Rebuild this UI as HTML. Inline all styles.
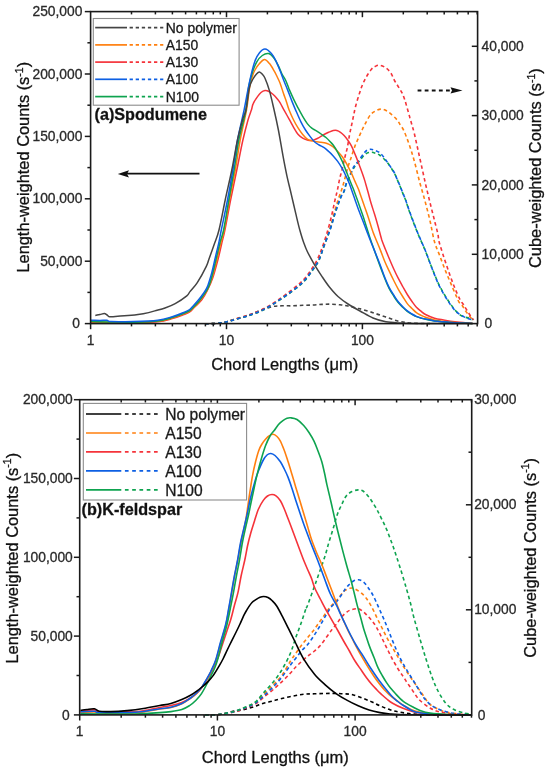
<!DOCTYPE html>
<html><head><meta charset="utf-8"><title>Chord length distributions</title>
<style>
html,body{margin:0;padding:0;background:#fff;}
body{width:550px;height:772px;overflow:hidden;}
svg{display:block;}
svg text{-webkit-font-smoothing:antialiased;}
svg{will-change:transform;}
text{font-family:"Liberation Sans",sans-serif;fill:#1a1a1a;stroke:#1a1a1a;stroke-width:0.3px;}
.tl{font-size:13.8px;fill:#2a2a2a;stroke:#2a2a2a;}
.title{font-size:16.5px;fill:#111;stroke:#111;}
.vt{font-size:16.4px;}
.bold{font-size:16.2px;font-weight:bold;fill:#111;}
</style></head>
<body>
<svg width="550" height="772" viewBox="0 0 550 772">
<rect width="550" height="772" fill="#fff"/>
<g>
<path d="M205.0,323.8 C206.7,323.8 212.2,323.7 215.0,323.5 C217.8,323.3 219.8,323.0 222.0,322.7 C224.2,322.4 225.9,322.1 228.0,321.5 C230.1,320.9 231.0,320.3 234.5,319.3 C238.0,318.3 244.8,316.8 249.1,315.3 C253.3,313.8 256.1,311.9 260.0,310.5 C263.9,309.1 268.7,307.4 272.4,306.6 C276.1,305.8 278.6,305.9 282.0,305.8 C285.4,305.7 289.2,305.9 292.7,305.8 C296.2,305.7 299.6,305.4 303.0,305.3 C306.4,305.2 309.9,305.1 313.1,305.0 C316.3,304.9 319.1,304.5 322.0,304.4 C324.9,304.3 327.5,304.1 330.5,304.2 C333.5,304.3 337.1,304.5 340.0,304.8 C342.9,305.1 345.2,305.4 348.0,306.0 C350.8,306.6 355.0,307.8 357.0,308.3 C359.0,308.8 357.3,308.1 360.0,308.8 C362.7,309.5 368.7,311.3 373.0,312.7 C377.3,314.1 381.6,315.7 385.9,317.1 C390.2,318.5 394.6,320.3 398.9,321.3 C403.2,322.3 406.6,322.7 411.8,323.1 C417.0,323.5 427.0,323.5 430.0,323.6" fill="none" stroke="#444444" stroke-width="1.6" stroke-dasharray="3.6 2.9" stroke-linejoin="round"/>
<path d="M205.0,323.8 C206.7,323.8 212.2,323.7 215.0,323.5 C217.8,323.3 219.8,323.0 222.0,322.7 C224.2,322.4 225.9,322.0 228.0,321.5 C230.1,321.0 231.0,320.5 234.5,319.5 C238.0,318.5 244.2,317.0 249.1,315.3 C253.9,313.6 258.8,311.9 263.6,309.5 C268.5,307.1 273.4,303.9 278.2,300.7 C283.0,297.5 288.3,293.9 292.7,290.5 C297.1,287.1 301.0,284.0 304.4,280.4 C307.8,276.8 310.7,272.1 313.1,268.7 C315.5,265.3 316.8,263.8 318.6,260.0 C320.4,256.2 322.1,251.3 324.0,246.0 C325.9,240.7 328.2,233.7 330.0,228.0 C331.8,222.3 333.2,216.7 334.5,212.0 C335.8,207.3 336.9,203.6 338.0,200.0 C339.1,196.4 340.4,193.6 341.4,190.5 C342.4,187.4 343.1,185.2 344.1,181.4 C345.2,177.6 346.5,171.8 347.7,167.7 C348.9,163.6 350.2,160.4 351.4,156.8 C352.6,153.2 353.8,149.1 355.0,145.9 C356.2,142.7 357.4,140.4 358.6,137.7 C359.8,135.0 361.2,131.8 362.3,129.5 C363.4,127.2 364.0,126.2 365.3,123.7 C366.6,121.2 368.7,116.9 370.4,114.8 C372.1,112.7 373.7,112.0 375.5,111.0 C377.3,110.0 379.3,109.1 381.2,109.1 C383.1,109.1 385.1,110.0 386.9,111.0 C388.7,112.0 390.3,113.3 392.0,114.8 C393.7,116.3 395.8,118.4 397.1,119.9 C398.4,121.4 398.5,121.9 399.6,123.7 C400.8,125.5 402.4,127.6 404.0,131.0 C405.6,134.4 407.3,139.2 409.0,144.0 C410.7,148.8 412.2,153.7 414.0,160.0 C415.8,166.3 417.8,175.0 419.6,181.8 C421.4,188.6 423.3,194.5 425.0,201.0 C426.7,207.5 428.4,213.9 430.0,220.7 C431.6,227.5 432.8,235.9 434.5,241.8 C436.2,247.8 438.2,251.5 440.0,256.4 C441.8,261.2 443.7,266.4 445.5,270.9 C447.3,275.4 449.1,279.4 450.9,283.6 C452.7,287.9 455.0,293.3 456.4,296.4 C457.8,299.5 458.2,300.9 459.1,302.3 C460.0,303.7 460.7,303.4 461.8,304.8 C462.9,306.2 464.3,309.1 465.5,310.9 C466.7,312.7 467.9,314.0 469.1,315.5 C470.3,317.0 472.1,319.2 472.7,320.0" fill="none" stroke="#ff7f0e" stroke-width="1.6" stroke-dasharray="3.6 2.9" stroke-linejoin="round"/>
<path d="M205.0,323.8 C206.7,323.8 212.2,323.7 215.0,323.5 C217.8,323.3 219.8,323.0 222.0,322.7 C224.2,322.4 225.9,322.1 228.0,321.5 C230.1,320.9 231.0,320.3 234.5,319.2 C238.0,318.1 244.2,316.5 249.1,314.8 C253.9,313.1 258.8,311.3 263.6,308.8 C268.5,306.3 273.4,303.1 278.2,299.8 C283.0,296.5 288.3,292.7 292.7,289.2 C297.1,285.7 301.0,282.5 304.4,278.8 C307.8,275.1 310.8,270.3 313.1,266.8 C315.4,263.3 316.5,261.1 318.0,258.0 C319.5,254.9 320.5,252.2 322.0,248.0 C323.5,243.8 325.3,238.7 327.0,233.0 C328.7,227.3 330.7,219.5 332.0,214.0 C333.3,208.5 334.1,203.9 335.0,200.0 C335.9,196.1 336.6,193.9 337.3,190.5 C338.1,187.1 338.7,183.2 339.5,179.5 C340.3,175.8 341.4,172.4 342.3,168.6 C343.2,164.8 344.2,160.3 345.0,156.8 C345.8,153.3 346.6,151.3 347.3,147.7 C348.1,144.1 348.8,138.6 349.5,135.0 C350.2,131.4 350.7,129.2 351.4,126.0 C352.1,122.8 352.8,119.3 353.5,116.0 C354.2,112.7 354.7,109.8 355.7,106.0 C356.7,102.2 358.3,96.8 359.5,93.2 C360.7,89.6 361.5,87.1 362.7,84.3 C363.9,81.5 365.0,79.1 366.5,76.6 C368.0,74.0 370.2,70.7 371.6,69.0 C373.0,67.3 373.7,67.1 375.0,66.5 C376.3,65.9 377.5,65.0 379.3,65.2 C381.1,65.4 383.7,66.4 385.6,67.7 C387.5,69.0 389.2,70.7 390.7,72.8 C392.2,74.9 393.2,78.2 394.5,80.5 C395.8,82.8 397.1,84.7 398.4,86.8 C399.7,88.9 401.1,91.1 402.2,93.2 C403.2,95.3 403.8,97.0 404.7,99.5 C405.6,102.0 406.4,105.5 407.3,108.5 C408.2,111.5 409.1,114.7 409.8,117.4 C410.6,120.1 411.1,121.9 411.8,124.5 C412.5,127.1 413.2,128.8 414.2,133.0 C415.2,137.2 416.7,144.0 418.0,150.0 C419.3,156.0 420.9,162.9 422.2,168.9 C423.5,174.9 424.7,180.4 426.0,186.0 C427.3,191.6 428.7,197.2 430.0,202.6 C431.3,208.0 432.7,213.3 434.0,218.5 C435.3,223.7 436.9,229.8 437.8,233.7 C438.7,237.6 438.1,238.0 439.1,241.8 C440.1,245.6 441.9,251.2 443.6,256.4 C445.3,261.5 447.3,267.5 449.1,272.7 C450.9,277.9 452.7,282.8 454.5,287.3 C456.3,291.8 458.5,296.6 460.0,299.5 C461.5,302.4 462.4,302.9 463.6,304.8 C464.8,306.7 466.1,309.0 467.3,310.9 C468.5,312.8 469.8,314.9 470.9,316.4 C471.9,317.9 473.2,319.4 473.6,320.0" fill="none" stroke="#f5333a" stroke-width="1.6" stroke-dasharray="3.6 2.9" stroke-linejoin="round"/>
<path d="M205.0,323.8 C206.7,323.8 212.2,323.7 215.0,323.5 C217.8,323.3 219.8,323.0 222.0,322.7 C224.2,322.4 225.9,322.0 228.0,321.5 C230.1,321.0 231.0,320.6 234.5,319.6 C238.0,318.6 244.2,317.1 249.1,315.5 C253.9,313.9 258.8,312.2 263.6,309.8 C268.5,307.4 273.4,304.1 278.2,301.0 C283.0,297.9 288.3,294.3 292.7,291.0 C297.1,287.7 301.0,284.6 304.4,281.0 C307.8,277.4 310.7,272.9 313.1,269.5 C315.5,266.1 317.1,264.4 318.9,260.5 C320.7,256.6 322.1,251.1 324.0,246.0 C325.9,240.9 328.2,235.2 330.0,230.0 C331.8,224.8 333.0,219.7 334.5,215.0 C336.0,210.3 337.8,205.5 339.0,202.0 C340.2,198.5 341.1,195.8 342.0,194.0 C342.9,192.2 343.5,192.9 344.1,191.4 C344.8,189.9 345.1,187.1 345.9,185.0 C346.6,182.9 347.7,180.7 348.6,178.6 C349.5,176.5 350.5,174.3 351.4,172.5 C352.3,170.7 352.9,169.2 354.1,167.5 C355.3,165.8 356.9,164.0 358.6,162.0 C360.3,160.0 362.5,156.9 364.1,155.3 C365.8,153.7 367.2,153.1 368.5,152.6 C369.8,152.1 370.8,152.2 372.0,152.3 C373.2,152.5 374.8,153.1 376.0,153.5 C377.2,153.9 378.0,153.9 379.5,155.0 C381.0,156.1 383.6,158.6 385.0,160.0 C386.4,161.4 386.8,161.5 388.2,163.5 C389.6,165.5 392.2,169.5 393.7,172.0 C395.1,174.5 395.6,175.7 396.9,178.7 C398.2,181.7 400.1,186.4 401.5,190.0 C402.9,193.6 404.3,196.5 405.6,200.0 C406.9,203.5 407.3,205.8 409.2,211.0 C411.1,216.2 414.4,225.1 417.0,231.5 C419.6,237.9 422.6,244.2 424.8,249.5 C427.0,254.8 428.3,258.6 430.0,263.0 C431.7,267.4 433.5,271.9 435.2,276.0 C436.9,280.1 438.2,283.4 440.4,287.5 C442.5,291.6 445.5,296.6 448.1,300.5 C450.7,304.4 453.6,308.4 455.9,311.0 C458.2,313.6 459.8,314.8 462.0,316.0 C464.2,317.2 467.1,317.6 468.9,318.2 C470.6,318.8 471.9,319.5 472.5,319.8" fill="none" stroke="#0ea34f" stroke-width="1.6" stroke-dasharray="3.6 2.9" stroke-linejoin="round"/>
<path d="M205.0,323.8 C206.7,323.8 212.2,323.7 215.0,323.5 C217.8,323.3 219.8,323.0 222.0,322.7 C224.2,322.4 225.9,322.0 228.0,321.5 C230.1,321.0 231.0,320.6 234.5,319.6 C238.0,318.6 244.2,317.1 249.1,315.4 C253.9,313.7 258.8,312.0 263.6,309.6 C268.5,307.2 273.4,304.0 278.2,300.8 C283.0,297.6 288.3,294.0 292.7,290.6 C297.1,287.2 301.0,284.2 304.4,280.6 C307.8,277.0 310.7,272.4 313.1,269.0 C315.5,265.6 317.1,264.0 318.9,260.2 C320.7,256.4 322.1,251.0 324.0,246.0 C325.9,241.0 328.2,235.2 330.0,230.0 C331.8,224.8 333.1,219.5 334.5,215.0 C335.9,210.5 337.3,206.2 338.5,203.0 C339.7,199.8 340.6,198.0 341.5,196.0 C342.4,194.0 343.4,192.9 344.1,191.0 C344.8,189.1 345.1,186.7 345.9,184.5 C346.6,182.3 347.7,180.1 348.6,178.0 C349.5,175.9 350.5,173.9 351.4,172.0 C352.3,170.1 352.9,168.2 354.1,166.3 C355.3,164.4 356.9,163.0 358.6,160.8 C360.3,158.6 362.6,154.8 364.1,153.0 C365.6,151.2 366.4,150.6 367.5,150.0 C368.6,149.4 369.6,149.3 370.7,149.3 C371.8,149.3 372.5,149.4 374.0,150.0 C375.5,150.6 377.8,151.3 379.5,152.6 C381.2,153.8 382.6,155.7 384.0,157.5 C385.4,159.3 386.6,161.2 388.2,163.5 C389.8,165.8 392.2,169.0 393.7,171.5 C395.1,174.0 395.6,175.7 396.9,178.7 C398.2,181.7 400.1,186.0 401.5,189.6 C402.9,193.2 404.3,196.5 405.6,200.0 C406.9,203.5 407.3,205.2 409.2,210.4 C411.1,215.6 414.4,224.6 417.0,231.1 C419.6,237.6 422.6,243.9 424.8,249.2 C427.0,254.5 428.3,258.4 430.0,263.0 C431.7,267.6 433.5,272.3 435.2,276.5 C436.9,280.7 438.2,283.9 440.4,288.0 C442.5,292.1 445.5,297.2 448.1,301.1 C450.7,305.0 453.3,308.8 455.9,311.4 C458.5,314.0 461.7,315.4 463.7,316.6 C465.7,317.8 466.5,317.9 468.0,318.5 C469.5,319.1 471.8,319.8 472.5,320.0" fill="none" stroke="#0d5fe3" stroke-width="1.6" stroke-dasharray="3.6 2.9" stroke-linejoin="round"/>
<path d="M91.0,322.5 C94.3,322.6 103.9,322.8 111.0,322.8 C118.1,322.9 125.8,323.0 133.6,322.8 C141.4,322.6 151.2,322.5 157.7,321.8 C164.1,321.1 167.9,319.8 172.3,318.6 C176.7,317.4 181.0,315.6 183.9,314.5 C186.8,313.4 187.9,313.2 189.7,312.0 C191.5,310.8 192.7,309.0 194.7,307.0 C196.7,305.0 199.7,302.5 201.8,299.8 C203.9,297.1 205.4,294.3 207.2,290.7 C209.0,287.1 210.9,283.3 212.7,278.0 C214.5,272.7 216.6,264.7 218.1,259.0 C219.6,253.3 220.6,248.4 221.7,243.6 C222.8,238.8 223.4,237.3 224.9,230.0 C226.4,222.7 228.6,210.0 230.6,200.0 C232.6,190.0 234.8,180.0 236.8,170.0 C238.9,160.0 241.0,148.3 242.9,140.0 C244.8,131.7 246.6,125.0 248.0,120.0 C249.4,115.0 250.5,112.7 251.4,110.0 C252.3,107.3 252.1,105.9 253.2,103.6 C254.2,101.3 256.4,98.2 257.7,96.4 C259.0,94.6 259.8,93.5 261.0,92.5 C262.2,91.5 263.7,90.7 265.0,90.5 C266.3,90.3 267.6,90.8 269.0,91.5 C270.4,92.2 271.9,93.4 273.2,94.5 C274.4,95.6 275.4,96.6 276.5,98.0 C277.6,99.4 278.7,100.5 280.0,102.7 C281.3,104.9 283.0,108.2 284.5,110.9 C286.0,113.6 287.6,116.4 289.1,119.1 C290.6,121.8 292.1,124.7 293.6,127.3 C295.1,129.9 296.7,132.7 298.2,134.5 C299.7,136.3 301.2,137.3 302.7,138.2 C304.2,139.1 305.8,139.6 307.3,140.0 C308.8,140.4 310.5,140.6 311.8,140.5 C313.1,140.4 313.7,140.0 315.0,139.5 C316.3,139.0 318.0,138.1 319.5,137.3 C321.0,136.5 322.6,135.3 324.1,134.5 C325.6,133.7 327.1,133.0 328.6,132.3 C330.1,131.7 331.8,130.9 333.2,130.6 C334.6,130.3 335.6,130.2 336.8,130.5 C338.0,130.8 339.3,131.5 340.5,132.3 C341.7,133.1 342.9,134.2 344.1,135.5 C345.3,136.8 346.5,138.3 347.7,140.0 C348.9,141.7 350.2,143.6 351.4,145.9 C352.6,148.2 353.8,151.2 355.0,154.1 C356.2,157.0 357.4,160.0 358.6,163.2 C359.8,166.4 361.2,170.2 362.3,173.2 C363.4,176.2 364.1,178.3 365.0,181.4 C365.9,184.5 367.0,188.4 368.0,192.0 C369.0,195.6 369.9,199.3 371.0,203.0 C372.1,206.7 373.3,210.2 374.5,214.0 C375.7,217.8 376.8,221.7 378.0,226.0 C379.2,230.3 380.6,236.1 381.8,240.0 C383.1,243.9 384.3,246.5 385.5,249.5 C386.7,252.5 387.7,254.9 389.1,258.2 C390.5,261.5 392.5,266.2 394.0,269.5 C395.5,272.8 396.7,275.3 398.2,278.2 C399.7,281.1 401.5,284.3 403.0,287.0 C404.5,289.7 405.8,292.1 407.3,294.5 C408.8,296.9 410.5,299.4 412.0,301.5 C413.5,303.6 414.9,305.7 416.4,307.3 C417.9,308.9 419.5,310.0 421.0,311.2 C422.5,312.4 423.2,313.3 425.5,314.5 C427.8,315.7 431.5,317.3 434.5,318.2 C437.5,319.1 440.2,319.4 443.6,320.0 C447.0,320.6 450.2,321.2 455.0,321.8 C459.8,322.4 469.6,323.1 472.5,323.4" fill="none" stroke="#f5333a" stroke-width="1.5" stroke-linejoin="round"/>
<path d="M91.0,321.8 C94.3,321.9 103.9,322.2 111.0,322.3 C118.1,322.4 125.8,322.5 133.6,322.3 C141.4,322.1 151.2,322.0 157.7,321.3 C164.1,320.6 167.9,319.2 172.3,318.0 C176.7,316.8 181.0,315.0 183.9,313.8 C186.8,312.6 188.0,312.1 189.7,311.0 C191.4,309.9 192.5,308.8 194.3,307.0 C196.1,305.2 198.3,302.9 200.5,300.0 C202.7,297.1 205.5,293.5 207.5,289.5 C209.5,285.5 211.0,281.2 212.6,276.0 C214.2,270.8 215.8,264.0 217.2,258.5 C218.6,253.0 219.6,247.8 220.8,243.0 C222.0,238.2 222.8,237.2 224.2,230.0 C225.6,222.8 227.7,210.0 229.5,200.0 C231.3,190.0 233.5,180.0 235.3,170.0 C237.1,160.0 238.3,150.0 240.2,140.0 C242.1,130.0 244.9,118.7 246.5,110.0 C248.1,101.3 248.5,93.7 249.5,88.0 C250.5,82.3 251.6,79.0 252.5,76.0 C253.4,73.0 253.8,72.1 255.0,70.0 C256.2,67.9 257.9,65.3 259.5,63.6 C261.1,61.9 262.8,59.5 264.5,59.5 C266.2,59.5 267.9,61.7 269.5,63.6 C271.1,65.5 272.9,68.8 274.1,70.9 C275.4,73.1 276.0,74.5 277.0,76.5 C278.0,78.5 278.9,80.2 280.0,83.0 C281.1,85.8 282.4,90.3 283.5,93.5 C284.6,96.7 285.6,99.2 286.5,102.0 C287.4,104.8 287.9,107.0 289.1,110.0 C290.3,113.0 292.1,117.0 293.6,120.0 C295.1,123.0 296.7,125.8 298.2,128.2 C299.7,130.6 301.2,132.7 302.7,134.5 C304.2,136.3 305.8,138.0 307.3,139.1 C308.8,140.2 310.3,140.4 311.8,140.9 C313.3,141.4 314.9,141.6 316.4,141.8 C317.9,142.0 319.4,142.1 320.9,142.3 C322.4,142.5 324.2,142.6 325.5,142.9 C326.8,143.2 327.3,143.4 328.6,144.1 C329.9,144.8 331.7,145.6 333.2,146.8 C334.7,148.0 336.2,149.7 337.7,151.4 C339.2,153.1 340.8,154.7 342.3,156.8 C343.8,158.9 345.3,161.4 346.8,164.1 C348.3,166.8 350.0,170.3 351.4,173.2 C352.8,176.1 353.8,178.7 355.0,181.4 C356.2,184.1 357.7,187.2 358.6,189.5 C359.5,191.8 359.6,192.4 360.5,195.0 C361.4,197.6 362.7,201.2 364.0,205.0 C365.3,208.8 367.0,213.5 368.5,218.0 C370.0,222.5 371.1,226.8 373.0,232.0 C374.9,237.2 378.0,244.1 380.0,249.1 C382.0,254.1 383.5,258.4 385.0,262.0 C386.5,265.6 387.6,267.7 389.1,270.9 C390.6,274.1 392.5,278.0 394.0,281.0 C395.5,284.0 396.7,286.4 398.2,289.1 C399.7,291.8 401.5,294.6 403.0,297.0 C404.5,299.4 405.8,301.7 407.3,303.6 C408.8,305.5 410.5,307.0 412.0,308.5 C413.5,310.0 414.9,311.6 416.4,312.7 C417.9,313.8 419.5,314.5 421.0,315.3 C422.5,316.1 423.2,316.5 425.5,317.3 C427.8,318.1 431.5,319.3 434.5,320.0 C437.5,320.7 440.2,321.1 443.6,321.5 C447.0,321.9 450.2,322.3 455.0,322.6 C459.8,322.9 469.6,323.3 472.5,323.4" fill="none" stroke="#ff7f0e" stroke-width="1.5" stroke-linejoin="round"/>
<path d="M91.0,321.5 C94.3,321.6 103.9,321.9 111.0,322.0 C118.1,322.1 125.8,322.4 133.6,322.2 C141.4,322.0 151.2,321.8 157.7,321.0 C164.1,320.2 167.9,318.8 172.3,317.5 C176.7,316.2 181.0,314.5 183.9,313.3 C186.8,312.1 188.0,311.6 189.7,310.5 C191.4,309.4 192.4,308.2 194.0,306.5 C195.6,304.8 197.2,303.5 199.5,300.5 C201.8,297.5 205.6,292.9 207.8,288.5 C210.0,284.1 211.1,279.1 212.5,274.0 C213.9,268.9 215.1,263.2 216.3,258.0 C217.6,252.8 218.8,247.2 220.0,242.5 C221.2,237.8 222.1,237.1 223.6,230.0 C225.1,222.9 227.1,210.0 228.8,200.0 C230.6,190.0 232.4,180.0 234.1,170.0 C235.8,160.0 236.8,150.0 238.8,140.0 C240.8,130.0 244.3,118.8 245.9,110.0 C247.5,101.2 247.5,93.5 248.6,87.3 C249.7,81.1 250.9,77.0 252.3,72.7 C253.7,68.5 255.1,64.7 256.8,61.8 C258.5,58.9 260.3,56.9 262.3,55.5 C264.3,54.1 266.6,53.1 268.6,53.6 C270.6,54.1 272.4,56.1 274.1,58.2 C275.8,60.3 277.3,63.8 278.6,66.4 C279.9,69.0 280.9,71.7 282.0,74.0 C283.1,76.3 284.3,77.5 285.5,80.0 C286.7,82.5 287.8,85.9 289.1,89.1 C290.5,92.3 292.1,95.9 293.6,99.1 C295.1,102.3 296.7,105.3 298.2,108.2 C299.7,111.1 301.2,113.8 302.7,116.4 C304.2,119.0 305.8,121.6 307.3,123.6 C308.8,125.6 310.3,127.0 311.8,128.2 C313.3,129.4 314.7,129.8 316.4,130.9 C318.1,132.0 320.2,133.4 321.8,134.5 C323.4,135.6 324.6,136.3 326.0,137.5 C327.4,138.7 328.8,140.2 330.0,141.5 C331.2,142.8 331.9,143.2 333.2,145.0 C334.5,146.8 336.2,149.6 337.7,152.3 C339.2,155.0 340.9,158.4 342.3,161.4 C343.7,164.4 344.7,167.5 345.9,170.5 C347.1,173.5 348.3,176.5 349.5,179.5 C350.7,182.5 352.1,185.7 353.2,188.6 C354.3,191.5 355.2,194.1 356.3,197.0 C357.4,199.9 358.4,202.8 359.5,206.0 C360.6,209.2 361.8,212.5 363.0,216.0 C364.2,219.5 365.3,223.3 366.5,227.0 C367.7,230.7 368.9,234.7 370.0,238.0 C371.1,241.3 371.3,241.9 373.0,246.6 C374.7,251.3 378.0,260.6 380.0,266.0 C382.0,271.4 383.5,275.3 385.0,279.0 C386.5,282.7 387.6,285.4 389.1,288.3 C390.6,291.2 392.5,294.1 394.0,296.5 C395.5,298.9 396.7,300.7 398.2,302.5 C399.7,304.3 401.5,306.0 403.0,307.5 C404.5,309.0 405.8,310.2 407.3,311.3 C408.8,312.4 410.5,313.4 412.0,314.3 C413.5,315.2 414.1,315.8 416.4,316.6 C418.6,317.4 422.5,318.6 425.5,319.3 C428.5,320.0 431.5,320.6 434.5,321.0 C437.5,321.4 440.2,321.6 443.6,321.9 C447.0,322.2 450.2,322.5 455.0,322.8 C459.8,323.1 469.6,323.4 472.5,323.5" fill="none" stroke="#0ea34f" stroke-width="1.5" stroke-linejoin="round"/>
<path d="M91.0,320.2 C92.5,320.2 97.4,320.4 100.0,320.4 C102.6,320.4 104.9,320.0 106.8,320.2 C108.7,320.4 106.7,321.4 111.2,321.6 C115.7,321.8 125.8,321.7 133.6,321.5 C141.3,321.3 151.2,321.0 157.7,320.2 C164.1,319.4 167.9,318.0 172.3,316.7 C176.7,315.4 181.0,313.6 183.9,312.4 C186.8,311.2 188.0,310.7 189.7,309.5 C191.4,308.3 192.5,306.6 194.0,305.0 C195.5,303.4 197.1,301.6 198.6,299.8 C200.1,298.0 201.6,296.1 203.0,294.0 C204.4,291.9 205.7,290.7 207.2,287.1 C208.7,283.5 210.4,277.6 211.8,272.6 C213.2,267.6 214.2,262.3 215.4,257.2 C216.6,252.1 218.0,246.3 219.0,241.8 C220.0,237.3 219.9,237.0 221.3,230.0 C222.7,223.0 225.6,210.0 227.5,200.0 C229.4,190.0 231.2,180.0 232.9,170.0 C234.6,160.0 235.6,150.0 237.5,140.0 C239.4,130.0 242.4,118.2 244.1,110.0 C245.8,101.8 246.5,97.0 247.7,90.9 C248.9,84.8 250.2,78.6 251.4,73.6 C252.6,68.6 253.7,64.4 255.0,60.9 C256.4,57.4 257.8,54.7 259.5,52.7 C261.2,50.7 263.0,49.0 265.0,49.1 C267.0,49.2 269.6,51.6 271.4,53.6 C273.2,55.6 274.5,58.1 275.9,60.9 C277.3,63.7 278.7,67.3 280.0,70.5 C281.3,73.7 282.4,76.9 283.6,80.0 C284.8,83.1 285.9,85.6 287.3,89.1 C288.7,92.6 290.3,97.1 291.8,100.9 C293.3,104.7 294.9,108.3 296.4,111.8 C297.9,115.3 299.4,118.8 300.9,121.8 C302.4,124.8 304.0,127.6 305.5,130.0 C307.0,132.4 308.5,134.4 310.0,136.4 C311.5,138.4 313.0,140.4 314.5,141.8 C316.0,143.2 317.4,144.0 319.1,145.0 C320.8,146.0 322.9,146.8 324.5,147.9 C326.1,149.0 327.2,150.1 328.6,151.4 C330.1,152.7 331.7,154.2 333.2,155.9 C334.7,157.6 336.2,159.3 337.7,161.4 C339.2,163.5 340.9,166.2 342.3,168.6 C343.7,171.0 344.7,173.3 345.9,175.9 C347.1,178.5 348.3,181.0 349.5,184.1 C350.7,187.2 352.0,191.2 353.2,194.5 C354.4,197.8 355.4,200.8 356.5,204.0 C357.6,207.2 358.8,210.4 360.0,213.5 C361.2,216.6 362.4,219.7 363.5,222.5 C364.6,225.3 365.4,227.7 366.5,230.5 C367.6,233.3 368.9,236.8 370.0,239.5 C371.1,242.2 371.3,242.8 373.0,247.0 C374.7,251.2 378.0,259.3 380.0,264.5 C382.0,269.7 383.5,274.2 385.0,278.0 C386.5,281.8 387.6,284.4 389.1,287.3 C390.6,290.2 392.5,293.1 394.0,295.5 C395.5,297.9 396.7,299.9 398.2,301.8 C399.7,303.7 401.5,305.5 403.0,307.0 C404.5,308.5 405.8,309.7 407.3,310.9 C408.8,312.1 410.5,313.1 412.0,314.0 C413.5,314.9 414.9,315.7 416.4,316.4 C417.9,317.1 419.5,317.6 421.0,318.0 C422.5,318.4 423.2,318.6 425.5,319.1 C427.8,319.6 431.5,320.4 434.5,320.9 C437.5,321.3 440.2,321.5 443.6,321.8 C447.0,322.1 450.2,322.5 455.0,322.8 C459.8,323.1 469.6,323.3 472.5,323.4" fill="none" stroke="#0d5fe3" stroke-width="1.5" stroke-linejoin="round"/>
<path d="M95.3,315.5 C96.1,315.3 98.5,314.8 100.0,314.5 C101.5,314.2 103.2,313.5 104.4,313.6 C105.6,313.7 106.1,314.5 107.0,315.0 C107.9,315.5 108.4,316.6 109.8,316.8 C111.2,317.0 112.9,316.6 115.3,316.4 C117.7,316.2 121.7,315.9 124.4,315.7 C127.1,315.5 129.2,315.5 131.5,315.3 C133.8,315.1 136.1,314.8 138.0,314.5 C139.9,314.2 140.4,314.4 143.2,313.8 C146.0,313.2 151.2,311.9 154.8,310.9 C158.4,309.9 161.6,309.2 165.0,308.0 C168.4,306.8 171.6,305.6 175.2,303.6 C178.8,301.6 184.3,297.8 186.8,295.8 C189.3,293.8 188.2,293.8 190.0,291.6 C191.8,289.4 194.6,286.8 197.3,282.6 C200.0,278.4 204.4,270.2 206.3,266.3 C208.2,262.4 207.6,262.8 209.0,259.0 C210.4,255.2 212.8,248.4 214.5,243.6 C216.2,238.8 217.2,237.3 219.0,230.0 C220.8,222.7 223.1,210.0 225.2,200.0 C227.3,190.0 229.8,180.0 231.8,170.0 C233.9,160.0 235.7,148.3 237.5,140.0 C239.3,131.7 241.1,125.0 242.5,120.0 C243.9,115.0 244.7,115.5 245.9,110.0 C247.1,104.5 248.3,92.5 249.5,87.3 C250.7,82.1 251.8,81.2 253.0,79.0 C254.2,76.8 255.4,75.2 256.5,74.0 C257.6,72.8 258.5,71.9 259.5,72.0 C260.5,72.1 261.6,73.5 262.5,74.5 C263.4,75.5 263.8,75.5 265.0,78.2 C266.2,80.9 268.0,85.6 269.5,90.9 C271.0,96.2 272.6,103.5 274.1,110.0 C275.6,116.5 276.9,122.3 278.4,130.0 C279.9,137.7 281.6,148.3 283.0,155.9 C284.4,163.5 285.4,168.8 286.8,175.3 C288.2,181.8 289.9,188.3 291.4,194.8 C292.9,201.3 294.5,208.3 295.9,214.2 C297.3,220.1 298.5,225.4 299.8,230.0 C301.1,234.6 302.2,238.4 303.5,242.0 C304.8,245.6 305.5,247.8 307.3,251.5 C309.1,255.2 311.8,260.0 314.3,264.3 C316.8,268.6 319.9,273.3 322.4,277.1 C324.9,280.9 326.8,283.8 329.4,287.0 C332.0,290.2 334.9,293.7 338.0,296.5 C341.1,299.3 344.3,301.6 348.0,304.0 C351.7,306.4 355.8,308.7 360.0,311.0 C364.2,313.3 368.7,316.2 373.0,318.0 C377.3,319.8 381.4,321.0 385.9,321.8 C390.4,322.6 394.3,322.7 400.0,323.0 C405.7,323.3 407.9,323.4 420.0,323.5 C432.1,323.6 463.8,323.6 472.5,323.6" fill="none" stroke="#444444" stroke-width="1.5" stroke-linejoin="round"/>
<rect x="90.6" y="11.6" width="387.0" height="312.0" fill="none" stroke="#1a1a1a" stroke-width="1.6"/>
<line x1="90.6" y1="323.6" x2="90.6" y2="329.20000000000005" stroke="#1a1a1a" stroke-width="1.5"/>
<text x="90.6" y="344.6" text-anchor="middle" class="tl">1</text>
<line x1="131.5" y1="323.6" x2="131.5" y2="326.40000000000003" stroke="#1a1a1a" stroke-width="1.5"/>
<line x1="131.5" y1="11.6" x2="131.5" y2="14.399999999999999" stroke="#1a1a1a" stroke-width="1.5"/>
<line x1="155.4" y1="323.6" x2="155.4" y2="326.40000000000003" stroke="#1a1a1a" stroke-width="1.5"/>
<line x1="155.4" y1="11.6" x2="155.4" y2="14.399999999999999" stroke="#1a1a1a" stroke-width="1.5"/>
<line x1="172.4" y1="323.6" x2="172.4" y2="326.40000000000003" stroke="#1a1a1a" stroke-width="1.5"/>
<line x1="172.4" y1="11.6" x2="172.4" y2="14.399999999999999" stroke="#1a1a1a" stroke-width="1.5"/>
<line x1="185.6" y1="323.6" x2="185.6" y2="326.40000000000003" stroke="#1a1a1a" stroke-width="1.5"/>
<line x1="185.6" y1="11.6" x2="185.6" y2="14.399999999999999" stroke="#1a1a1a" stroke-width="1.5"/>
<line x1="196.4" y1="323.6" x2="196.4" y2="326.40000000000003" stroke="#1a1a1a" stroke-width="1.5"/>
<line x1="196.4" y1="11.6" x2="196.4" y2="14.399999999999999" stroke="#1a1a1a" stroke-width="1.5"/>
<line x1="205.4" y1="323.6" x2="205.4" y2="326.40000000000003" stroke="#1a1a1a" stroke-width="1.5"/>
<line x1="205.4" y1="11.6" x2="205.4" y2="14.399999999999999" stroke="#1a1a1a" stroke-width="1.5"/>
<line x1="213.3" y1="323.6" x2="213.3" y2="326.40000000000003" stroke="#1a1a1a" stroke-width="1.5"/>
<line x1="213.3" y1="11.6" x2="213.3" y2="14.399999999999999" stroke="#1a1a1a" stroke-width="1.5"/>
<line x1="220.3" y1="323.6" x2="220.3" y2="326.40000000000003" stroke="#1a1a1a" stroke-width="1.5"/>
<line x1="220.3" y1="11.6" x2="220.3" y2="14.399999999999999" stroke="#1a1a1a" stroke-width="1.5"/>
<line x1="226.5" y1="323.6" x2="226.5" y2="329.20000000000005" stroke="#1a1a1a" stroke-width="1.5"/>
<line x1="226.5" y1="11.6" x2="226.5" y2="17.2" stroke="#1a1a1a" stroke-width="1.5"/>
<text x="226.5" y="344.6" text-anchor="middle" class="tl">10</text>
<line x1="267.4" y1="323.6" x2="267.4" y2="326.40000000000003" stroke="#1a1a1a" stroke-width="1.5"/>
<line x1="267.4" y1="11.6" x2="267.4" y2="14.399999999999999" stroke="#1a1a1a" stroke-width="1.5"/>
<line x1="291.3" y1="323.6" x2="291.3" y2="326.40000000000003" stroke="#1a1a1a" stroke-width="1.5"/>
<line x1="291.3" y1="11.6" x2="291.3" y2="14.399999999999999" stroke="#1a1a1a" stroke-width="1.5"/>
<line x1="308.3" y1="323.6" x2="308.3" y2="326.40000000000003" stroke="#1a1a1a" stroke-width="1.5"/>
<line x1="308.3" y1="11.6" x2="308.3" y2="14.399999999999999" stroke="#1a1a1a" stroke-width="1.5"/>
<line x1="321.5" y1="323.6" x2="321.5" y2="326.40000000000003" stroke="#1a1a1a" stroke-width="1.5"/>
<line x1="321.5" y1="11.6" x2="321.5" y2="14.399999999999999" stroke="#1a1a1a" stroke-width="1.5"/>
<line x1="332.3" y1="323.6" x2="332.3" y2="326.40000000000003" stroke="#1a1a1a" stroke-width="1.5"/>
<line x1="332.3" y1="11.6" x2="332.3" y2="14.399999999999999" stroke="#1a1a1a" stroke-width="1.5"/>
<line x1="341.3" y1="323.6" x2="341.3" y2="326.40000000000003" stroke="#1a1a1a" stroke-width="1.5"/>
<line x1="341.3" y1="11.6" x2="341.3" y2="14.399999999999999" stroke="#1a1a1a" stroke-width="1.5"/>
<line x1="349.2" y1="323.6" x2="349.2" y2="326.40000000000003" stroke="#1a1a1a" stroke-width="1.5"/>
<line x1="349.2" y1="11.6" x2="349.2" y2="14.399999999999999" stroke="#1a1a1a" stroke-width="1.5"/>
<line x1="356.2" y1="323.6" x2="356.2" y2="326.40000000000003" stroke="#1a1a1a" stroke-width="1.5"/>
<line x1="356.2" y1="11.6" x2="356.2" y2="14.399999999999999" stroke="#1a1a1a" stroke-width="1.5"/>
<line x1="362.4" y1="323.6" x2="362.4" y2="329.20000000000005" stroke="#1a1a1a" stroke-width="1.5"/>
<line x1="362.4" y1="11.6" x2="362.4" y2="17.2" stroke="#1a1a1a" stroke-width="1.5"/>
<text x="362.4" y="344.6" text-anchor="middle" class="tl">100</text>
<line x1="403.3" y1="323.6" x2="403.3" y2="326.40000000000003" stroke="#1a1a1a" stroke-width="1.5"/>
<line x1="403.3" y1="11.6" x2="403.3" y2="14.399999999999999" stroke="#1a1a1a" stroke-width="1.5"/>
<line x1="427.2" y1="323.6" x2="427.2" y2="326.40000000000003" stroke="#1a1a1a" stroke-width="1.5"/>
<line x1="427.2" y1="11.6" x2="427.2" y2="14.399999999999999" stroke="#1a1a1a" stroke-width="1.5"/>
<line x1="444.2" y1="323.6" x2="444.2" y2="326.40000000000003" stroke="#1a1a1a" stroke-width="1.5"/>
<line x1="444.2" y1="11.6" x2="444.2" y2="14.399999999999999" stroke="#1a1a1a" stroke-width="1.5"/>
<line x1="457.4" y1="323.6" x2="457.4" y2="326.40000000000003" stroke="#1a1a1a" stroke-width="1.5"/>
<line x1="457.4" y1="11.6" x2="457.4" y2="14.399999999999999" stroke="#1a1a1a" stroke-width="1.5"/>
<line x1="468.2" y1="323.6" x2="468.2" y2="326.40000000000003" stroke="#1a1a1a" stroke-width="1.5"/>
<line x1="468.2" y1="11.6" x2="468.2" y2="14.399999999999999" stroke="#1a1a1a" stroke-width="1.5"/>
<line x1="477.2" y1="323.6" x2="477.2" y2="326.40000000000003" stroke="#1a1a1a" stroke-width="1.5"/>
<line x1="477.2" y1="11.6" x2="477.2" y2="14.399999999999999" stroke="#1a1a1a" stroke-width="1.5"/>
<line x1="84.8" y1="323.6" x2="90.6" y2="323.6" stroke="#1a1a1a" stroke-width="1.5"/>
<text x="80.0" y="328.2" text-anchor="end" class="tl">0</text>
<line x1="87.4" y1="292.4" x2="90.6" y2="292.4" stroke="#1a1a1a" stroke-width="1.5"/>
<line x1="84.8" y1="261.2" x2="90.6" y2="261.2" stroke="#1a1a1a" stroke-width="1.5"/>
<text x="82.4" y="265.8" text-anchor="end" class="tl">50,000</text>
<line x1="87.4" y1="230.0" x2="90.6" y2="230.0" stroke="#1a1a1a" stroke-width="1.5"/>
<line x1="84.8" y1="198.8" x2="90.6" y2="198.8" stroke="#1a1a1a" stroke-width="1.5"/>
<text x="82.4" y="203.4" text-anchor="end" class="tl">100,000</text>
<line x1="87.4" y1="167.6" x2="90.6" y2="167.6" stroke="#1a1a1a" stroke-width="1.5"/>
<line x1="84.8" y1="136.4" x2="90.6" y2="136.4" stroke="#1a1a1a" stroke-width="1.5"/>
<text x="82.4" y="141.0" text-anchor="end" class="tl">150,000</text>
<line x1="87.4" y1="105.2" x2="90.6" y2="105.2" stroke="#1a1a1a" stroke-width="1.5"/>
<line x1="84.8" y1="74.0" x2="90.6" y2="74.0" stroke="#1a1a1a" stroke-width="1.5"/>
<text x="82.4" y="78.6" text-anchor="end" class="tl">200,000</text>
<line x1="87.4" y1="42.8" x2="90.6" y2="42.8" stroke="#1a1a1a" stroke-width="1.5"/>
<line x1="84.8" y1="11.6" x2="90.6" y2="11.6" stroke="#1a1a1a" stroke-width="1.5"/>
<text x="82.4" y="16.2" text-anchor="end" class="tl">250,000</text>
<text x="484.6" y="328.2" class="tl">0</text>
<line x1="474.4" y1="288.9" x2="477.6" y2="288.9" stroke="#1a1a1a" stroke-width="1.5"/>
<line x1="471.8" y1="254.3" x2="477.6" y2="254.3" stroke="#1a1a1a" stroke-width="1.5"/>
<text x="481.6" y="258.9" class="tl">10,000</text>
<line x1="474.4" y1="219.6" x2="477.6" y2="219.6" stroke="#1a1a1a" stroke-width="1.5"/>
<line x1="471.8" y1="184.9" x2="477.6" y2="184.9" stroke="#1a1a1a" stroke-width="1.5"/>
<text x="481.6" y="189.5" class="tl">20,000</text>
<line x1="474.4" y1="150.3" x2="477.6" y2="150.3" stroke="#1a1a1a" stroke-width="1.5"/>
<line x1="471.8" y1="115.6" x2="477.6" y2="115.6" stroke="#1a1a1a" stroke-width="1.5"/>
<text x="481.6" y="120.2" class="tl">30,000</text>
<line x1="474.4" y1="80.9" x2="477.6" y2="80.9" stroke="#1a1a1a" stroke-width="1.5"/>
<line x1="471.8" y1="46.3" x2="477.6" y2="46.3" stroke="#1a1a1a" stroke-width="1.5"/>
<text x="481.6" y="50.9" class="tl">40,000</text>
<rect x="93.3" y="18.5" width="145.8" height="86.7" fill="#fff" stroke="#8c8c8c" stroke-width="1.1"/>
<line x1="95.2" y1="27.6" x2="127.0" y2="27.6" stroke="#444444" stroke-width="1.7"/>
<line x1="129.6" y1="27.6" x2="163.3" y2="27.6" stroke="#444444" stroke-width="1.7" stroke-dasharray="3.3 2.8"/>
<text x="165.8" y="32.5" style="font-size:13.9px">No polymer</text>
<line x1="95.2" y1="44.9" x2="127.0" y2="44.9" stroke="#ff7f0e" stroke-width="1.7"/>
<line x1="129.6" y1="44.9" x2="163.3" y2="44.9" stroke="#ff7f0e" stroke-width="1.7" stroke-dasharray="3.3 2.8"/>
<text x="165.8" y="49.8" style="font-size:13.9px">A150</text>
<line x1="95.2" y1="62.1" x2="127.0" y2="62.1" stroke="#f5333a" stroke-width="1.7"/>
<line x1="129.6" y1="62.1" x2="163.3" y2="62.1" stroke="#f5333a" stroke-width="1.7" stroke-dasharray="3.3 2.8"/>
<text x="165.8" y="67.0" style="font-size:13.9px">A130</text>
<line x1="95.2" y1="79.3" x2="127.0" y2="79.3" stroke="#0d5fe3" stroke-width="1.7"/>
<line x1="129.6" y1="79.3" x2="163.3" y2="79.3" stroke="#0d5fe3" stroke-width="1.7" stroke-dasharray="3.3 2.8"/>
<text x="165.8" y="84.2" style="font-size:13.9px">A100</text>
<line x1="95.2" y1="96.6" x2="127.0" y2="96.6" stroke="#0ea34f" stroke-width="1.7"/>
<line x1="129.6" y1="96.6" x2="163.3" y2="96.6" stroke="#0ea34f" stroke-width="1.7" stroke-dasharray="3.3 2.8"/>
<text x="165.8" y="101.5" style="font-size:13.9px">N100</text>
<text x="94.5" y="120" class="bold">(a)Spodumene</text>
<line x1="199.5" y1="173.6" x2="126" y2="173.6" stroke="#111" stroke-width="1.7"/>
<path d="M117.8,173.9 L129,170.3 L127,173.9 L129,177.5 Z" fill="#111"/>
<line x1="417.6" y1="90.4" x2="451" y2="90.4" stroke="#111" stroke-width="2" stroke-dasharray="3.8 3.3"/>
<path d="M462.5,90.4 L450.5,87.3 L452,90.4 L450.5,93.5 Z" fill="#111"/>
<text x="211.2" y="369.6" class="title">Chord Lengths (μm)</text>
<text transform="translate(29.4,272.6) rotate(-90)" class="title vt">Length-weighted Counts (s<tspan dy="-6.8" style="font-size:10.5px">-1</tspan><tspan dy="6.8">)</tspan></text>
<text transform="translate(541.3,268) rotate(-90)" class="title vt">Cube-weighted Counts (s<tspan dy="-6.8" style="font-size:10.5px">-1</tspan><tspan dy="6.8">)</tspan></text>
</g>
<g>
<path d="M205.0,715.0 C206.7,715.0 212.2,714.9 215.0,714.8 C217.8,714.7 219.2,714.7 222.0,714.2 C224.8,713.7 228.8,712.3 232.0,711.6 C235.2,710.9 238.2,710.7 240.9,710.2 C243.7,709.7 245.9,709.1 248.5,708.4 C251.1,707.7 253.7,706.8 256.2,705.9 C258.7,705.0 260.9,704.1 263.6,703.3 C266.4,702.5 269.7,701.8 272.7,701.0 C275.7,700.2 278.5,699.3 281.8,698.5 C285.1,697.7 289.1,696.9 292.7,696.2 C296.3,695.5 300.0,694.7 303.6,694.3 C307.2,693.9 309.8,693.9 314.5,693.8 C319.2,693.6 327.3,693.4 332.0,693.4 C336.7,693.4 339.6,693.6 342.9,693.8 C346.2,694.0 348.3,693.8 351.6,694.5 C354.9,695.2 359.2,697.0 362.6,698.2 C366.0,699.5 369.1,700.7 372.0,702.0 C374.9,703.3 377.0,704.5 380.0,705.8 C383.0,707.1 386.7,708.7 390.0,709.8 C393.3,710.9 396.0,711.5 400.0,712.2 C404.0,712.9 409.0,713.6 414.0,714.0 C419.0,714.4 420.5,714.6 430.0,714.8 C439.5,714.9 464.2,714.9 471.0,714.9" fill="none" stroke="#000000" stroke-width="1.6" stroke-dasharray="3.6 2.9" stroke-linejoin="round"/>
<path d="M205.0,715.0 C206.7,715.0 212.2,715.0 215.0,714.8 C217.8,714.6 219.7,714.4 222.0,714.0 C224.3,713.6 226.8,713.1 229.0,712.6 C231.2,712.1 233.0,711.9 235.0,711.3 C237.0,710.7 238.8,710.1 241.0,709.2 C243.2,708.4 246.0,707.4 248.5,706.2 C251.0,705.0 253.7,704.0 256.2,702.0 C258.7,700.0 260.9,697.2 263.6,694.5 C266.4,691.8 269.7,688.7 272.7,685.5 C275.7,682.3 278.8,679.6 281.8,675.5 C284.8,671.4 288.1,664.8 290.5,661.0 C292.9,657.2 294.1,655.7 296.0,653.0 C297.9,650.3 299.8,647.5 301.7,645.0 C303.6,642.5 305.6,640.2 307.5,637.8 C309.4,635.4 311.4,633.3 313.3,630.8 C315.2,628.2 317.2,625.2 319.1,622.5 C321.1,619.8 323.1,617.0 325.0,614.3 C326.9,611.6 328.9,608.6 330.8,606.3 C332.7,604.0 334.5,603.0 336.6,600.5 C338.7,598.0 341.8,593.4 343.6,591.5 C345.4,589.6 346.2,589.9 347.5,589.3 C348.8,588.7 349.7,588.0 351.1,588.0 C352.5,588.0 354.3,588.6 356.0,589.5 C357.7,590.4 359.9,591.9 361.5,593.2 C363.1,594.5 364.3,595.8 365.7,597.5 C367.1,599.2 368.4,601.3 369.8,603.6 C371.2,605.9 372.6,608.7 374.0,611.5 C375.4,614.3 376.7,617.4 378.1,620.2 C379.5,623.0 380.9,625.7 382.3,628.5 C383.7,631.3 385.0,634.2 386.4,636.8 C387.8,639.4 389.1,641.9 390.5,644.3 C391.9,646.7 393.3,648.9 394.7,651.3 C396.1,653.7 397.4,656.1 398.8,658.5 C400.2,660.9 401.6,663.5 403.0,665.8 C404.4,668.0 405.6,669.9 407.0,672.0 C408.4,674.1 409.9,676.2 411.3,678.3 C412.7,680.4 414.2,682.4 415.6,684.5 C417.1,686.6 418.4,688.5 420.0,690.7 C421.6,693.0 423.3,695.7 425.0,698.0 C426.7,700.3 426.8,702.2 430.0,704.5 C433.2,706.8 439.0,709.9 444.0,711.5 C449.0,713.1 455.5,713.5 460.0,714.0 C464.5,714.5 469.2,714.5 471.0,714.6" fill="none" stroke="#ff7f0e" stroke-width="1.6" stroke-dasharray="3.6 2.9" stroke-linejoin="round"/>
<path d="M205.0,715.0 C206.7,715.0 212.2,714.9 215.0,714.8 C217.8,714.6 219.7,714.4 222.0,714.1 C224.3,713.8 226.8,713.4 229.0,713.0 C231.2,712.6 233.0,712.3 235.0,711.8 C237.0,711.3 238.8,710.6 241.0,709.8 C243.2,709.0 246.0,708.0 248.5,707.0 C251.0,706.0 253.7,705.1 256.2,703.5 C258.7,701.9 260.9,699.5 263.6,697.3 C266.4,695.0 269.7,692.6 272.7,690.0 C275.7,687.4 278.8,684.6 281.8,681.8 C284.8,679.0 288.1,675.6 290.5,673.0 C292.9,670.4 294.4,668.4 296.5,666.3 C298.6,664.2 300.8,662.1 302.8,660.3 C304.8,658.5 306.7,657.0 308.6,655.5 C310.6,654.0 312.6,652.7 314.5,651.0 C316.4,649.3 318.4,647.7 320.3,645.5 C322.2,643.3 324.2,640.4 326.1,637.8 C328.1,635.1 330.2,631.9 332.0,629.6 C333.8,627.3 335.1,625.8 336.6,623.8 C338.2,621.8 339.6,619.4 341.3,617.4 C343.1,615.4 345.3,613.1 347.1,611.8 C348.9,610.5 350.1,610.1 352.0,609.6 C353.9,609.1 356.6,608.5 358.4,608.8 C360.2,609.1 361.4,610.3 363.0,611.5 C364.6,612.7 366.2,614.5 367.7,616.0 C369.2,617.5 370.6,619.1 372.0,620.8 C373.4,622.5 374.7,624.2 376.0,626.4 C377.3,628.6 378.6,631.2 380.0,634.0 C381.4,636.8 382.9,640.1 384.3,643.0 C385.7,645.9 387.1,648.7 388.5,651.5 C389.9,654.3 391.1,656.8 392.6,659.6 C394.2,662.4 396.1,665.7 397.8,668.5 C399.5,671.3 401.5,673.9 403.0,676.2 C404.5,678.5 405.6,680.4 407.0,682.5 C408.4,684.6 409.9,686.5 411.3,688.6 C412.7,690.7 414.2,693.0 415.6,695.0 C417.1,697.0 417.6,698.3 420.0,700.5 C422.4,702.7 426.7,706.1 430.0,708.0 C433.3,709.9 435.8,711.0 440.0,712.0 C444.2,713.0 449.8,713.8 455.0,714.3 C460.2,714.8 468.3,714.7 471.0,714.8" fill="none" stroke="#f5333a" stroke-width="1.6" stroke-dasharray="3.6 2.9" stroke-linejoin="round"/>
<path d="M205.0,715.0 C206.7,715.0 212.2,715.0 215.0,714.8 C217.8,714.6 219.7,714.4 222.0,714.0 C224.3,713.6 226.8,713.1 229.0,712.7 C231.2,712.3 233.0,712.0 235.0,711.4 C237.0,710.8 238.8,710.2 241.0,709.4 C243.2,708.6 246.0,707.6 248.5,706.5 C251.0,705.4 253.7,704.2 256.2,702.5 C258.7,700.8 260.9,698.5 263.6,696.0 C266.4,693.5 269.7,690.6 272.7,687.5 C275.7,684.4 278.8,681.0 281.8,677.3 C284.8,673.5 288.1,668.2 290.5,665.0 C292.9,661.8 294.1,660.4 296.0,658.0 C297.9,655.6 299.8,652.8 301.7,650.6 C303.6,648.4 305.6,647.1 307.5,644.8 C309.4,642.5 311.4,639.5 313.3,636.6 C315.2,633.7 317.2,630.6 319.1,627.3 C321.1,624.0 323.1,620.1 325.0,616.8 C326.9,613.5 328.9,610.0 330.8,607.5 C332.7,605.0 334.7,604.0 336.6,601.7 C338.5,599.4 340.8,595.8 342.4,593.5 C344.0,591.2 344.8,589.5 346.0,588.0 C347.2,586.5 348.4,585.4 349.6,584.2 C350.9,583.0 352.0,581.8 353.5,581.0 C355.0,580.2 356.8,579.6 358.4,579.7 C360.0,579.8 361.4,580.3 363.0,581.5 C364.6,582.7 366.2,585.0 367.7,587.0 C369.2,589.0 370.6,591.1 372.0,593.5 C373.4,595.9 374.7,598.7 376.0,601.5 C377.3,604.3 378.6,607.4 380.0,610.5 C381.4,613.6 382.9,616.9 384.3,620.2 C385.7,623.5 387.1,627.0 388.5,630.5 C389.9,634.0 391.2,637.6 392.6,640.9 C394.0,644.2 395.3,647.4 396.7,650.5 C398.1,653.6 399.5,656.9 400.9,659.6 C402.3,662.4 403.6,664.6 405.0,667.0 C406.4,669.4 407.8,671.9 409.2,674.1 C410.6,676.4 411.9,678.3 413.3,680.5 C414.7,682.7 415.4,684.2 417.5,687.5 C419.6,690.8 422.9,697.1 426.0,700.5 C429.1,703.9 432.0,706.0 436.0,708.0 C440.0,710.0 445.2,711.7 450.0,712.8 C454.8,713.9 461.5,714.2 465.0,714.5 C468.5,714.8 470.0,714.7 471.0,714.7" fill="none" stroke="#0d5fe3" stroke-width="1.6" stroke-dasharray="3.6 2.9" stroke-linejoin="round"/>
<path d="M205.0,715.0 C206.7,715.0 212.2,715.0 215.0,714.8 C217.8,714.6 219.7,714.4 222.0,714.0 C224.3,713.6 226.8,713.0 229.0,712.5 C231.2,712.0 233.0,711.8 235.0,711.2 C237.0,710.6 238.8,709.9 241.0,709.0 C243.2,708.1 246.0,707.1 248.5,705.8 C251.0,704.5 253.7,703.5 256.2,701.3 C258.7,699.1 260.9,695.8 263.6,692.7 C266.4,689.6 269.7,686.5 272.7,682.7 C275.7,678.9 278.8,675.0 281.8,670.0 C284.8,665.0 288.2,658.4 290.5,653.0 C292.8,647.6 293.9,642.8 295.8,637.5 C297.7,632.2 299.9,626.5 301.7,621.5 C303.4,616.5 305.4,610.1 306.3,607.5 C307.2,604.9 305.7,610.2 307.3,606.0 C308.9,601.8 313.1,590.2 316.0,582.0 C318.9,573.8 322.5,563.7 324.7,557.0 C326.9,550.3 327.5,546.9 329.0,542.0 C330.5,537.1 332.1,532.2 333.5,527.5 C334.9,522.8 336.1,517.9 337.5,514.0 C338.9,510.1 340.6,507.0 342.0,504.0 C343.4,501.0 344.5,498.1 346.2,496.0 C347.9,493.9 350.0,492.5 352.0,491.5 C354.0,490.5 356.4,490.0 358.2,489.9 C360.0,489.8 361.4,490.0 363.0,491.0 C364.6,492.0 366.5,494.2 368.0,496.0 C369.5,497.8 370.6,499.3 372.0,501.5 C373.4,503.7 375.2,506.4 376.7,509.1 C378.2,511.8 379.4,514.4 381.1,517.8 C382.8,521.2 384.7,524.7 386.7,529.6 C388.7,534.5 391.1,540.9 393.3,547.1 C395.5,553.3 397.6,559.8 399.8,566.7 C402.0,573.6 404.6,582.4 406.4,588.6 C408.2,594.8 409.4,599.1 410.7,604.0 C412.0,608.9 412.4,612.2 414.0,618.0 C415.6,623.8 418.0,632.2 420.0,639.0 C422.0,645.8 424.0,652.7 426.0,659.0 C428.0,665.3 430.0,671.7 432.0,677.0 C434.0,682.3 435.7,686.6 438.0,691.0 C440.3,695.4 443.3,700.4 446.0,703.5 C448.7,706.6 451.0,707.9 454.0,709.5 C457.0,711.1 461.2,712.2 464.0,713.0 C466.8,713.8 469.8,714.0 471.0,714.2" fill="none" stroke="#0ea34f" stroke-width="1.6" stroke-dasharray="3.6 2.9" stroke-linejoin="round"/>
<path d="M80.5,710.9 C82.8,710.7 91.3,709.7 94.4,709.9 C97.5,710.1 93.8,711.6 99.3,711.9 C104.8,712.2 119.7,712.1 127.1,711.9 C134.5,711.7 138.1,711.5 143.5,710.8 C148.9,710.1 155.2,708.4 159.8,707.5 C164.4,706.6 167.2,706.3 170.9,705.5 C174.6,704.7 178.5,703.8 181.8,702.5 C185.1,701.2 187.9,699.6 190.5,698.0 C193.1,696.4 195.3,694.5 197.1,692.8 C198.9,691.1 200.1,689.9 201.5,688.0 C202.9,686.1 204.3,683.9 205.8,681.5 C207.3,679.1 209.1,676.3 210.6,673.5 C212.1,670.7 213.5,667.6 214.9,664.5 C216.3,661.4 217.7,658.6 219.0,655.0 C220.3,651.4 221.6,647.0 222.9,643.0 C224.2,639.0 225.6,635.0 226.9,631.0 C228.2,627.0 229.7,623.2 230.9,619.0 C232.2,614.8 233.2,609.9 234.4,605.5 C235.6,601.1 236.9,597.3 238.0,592.4 C239.1,587.5 240.0,581.4 241.1,576.0 C242.2,570.6 243.7,565.0 244.8,560.0 C245.9,555.0 246.6,550.3 247.5,546.0 C248.4,541.7 249.3,538.2 250.5,534.0 C251.7,529.8 253.2,525.2 254.5,521.0 C255.8,516.8 257.0,512.4 258.5,509.0 C260.0,505.6 261.8,502.6 263.3,500.4 C264.8,498.2 266.1,497.0 267.5,496.0 C268.9,495.0 270.6,494.5 272.0,494.5 C273.4,494.5 274.6,494.8 276.0,495.8 C277.4,496.8 279.0,498.5 280.4,500.7 C281.8,502.9 283.0,506.0 284.3,509.0 C285.6,512.0 286.8,515.5 288.1,518.8 C289.4,522.1 290.7,525.5 292.0,529.0 C293.3,532.5 294.6,536.0 295.9,539.5 C297.2,543.0 298.5,546.5 299.8,550.0 C301.1,553.5 302.4,557.0 303.7,560.3 C305.0,563.5 306.3,566.5 307.6,569.5 C308.9,572.5 310.3,575.2 311.5,578.4 C312.7,581.6 313.5,585.1 315.0,588.5 C316.5,591.9 318.4,595.4 320.3,599.0 C322.2,602.6 324.2,606.5 326.1,610.0 C328.1,613.5 330.1,616.9 332.0,620.3 C333.9,623.7 335.9,627.0 337.8,630.5 C339.7,634.0 341.7,637.6 343.6,641.0 C345.5,644.4 347.5,647.7 349.4,651.0 C351.3,654.3 353.0,657.8 355.0,661.0 C357.0,664.2 359.6,667.7 361.5,670.5 C363.4,673.3 365.0,675.7 366.7,678.0 C368.4,680.3 370.2,682.5 371.9,684.5 C373.6,686.5 375.3,688.2 377.0,690.0 C378.7,691.8 380.5,693.4 382.2,695.0 C383.9,696.6 385.7,698.1 387.4,699.5 C389.1,700.9 390.0,701.7 392.6,703.2 C395.2,704.7 399.3,706.8 403.0,708.3 C406.7,709.8 410.5,711.3 415.0,712.3 C419.5,713.3 424.2,713.8 430.0,714.2 C435.8,714.6 443.2,714.7 450.0,714.8 C456.8,714.9 467.5,714.9 471.0,714.9" fill="none" stroke="#f5333a" stroke-width="1.6" stroke-linejoin="round"/>
<path d="M80.5,712.5 C82.8,712.4 91.3,711.9 94.4,712.0 C97.5,712.1 93.8,712.8 99.3,713.0 C104.8,713.2 119.7,713.2 127.1,713.0 C134.5,712.8 138.1,712.6 143.5,711.9 C148.9,711.2 155.2,709.7 159.8,709.0 C164.4,708.3 167.2,708.4 170.9,707.5 C174.6,706.6 178.5,705.2 181.8,703.7 C185.1,702.2 187.9,700.1 190.5,698.3 C193.1,696.5 195.3,694.5 197.1,692.8 C198.9,691.1 200.1,689.9 201.5,687.9 C202.9,685.9 204.3,683.5 205.8,680.9 C207.3,678.3 208.9,675.7 210.6,672.3 C212.3,668.9 214.2,665.4 215.9,660.5 C217.6,655.6 219.0,648.9 220.7,643.0 C222.4,637.1 224.5,630.8 225.9,625.0 C227.3,619.2 228.0,613.9 229.0,608.5 C230.0,603.1 230.9,597.8 231.8,592.4 C232.7,587.0 233.6,581.4 234.6,576.0 C235.6,570.6 236.8,565.2 237.8,560.0 C238.8,554.8 239.6,549.7 240.5,545.0 C241.4,540.3 242.3,536.2 243.2,532.0 C244.1,527.8 244.8,525.7 245.8,520.0 C246.8,514.3 247.9,505.3 249.0,498.0 C250.1,490.7 251.3,482.4 252.4,476.4 C253.5,470.4 254.4,466.4 255.5,462.0 C256.6,457.6 257.8,453.2 258.9,450.2 C260.0,447.2 260.9,445.8 262.0,444.0 C263.1,442.2 264.3,440.6 265.5,439.3 C266.7,438.0 267.7,436.8 269.0,436.0 C270.3,435.2 271.8,434.2 273.1,434.3 C274.4,434.4 275.8,435.4 277.0,436.5 C278.2,437.6 279.2,438.8 280.4,441.1 C281.6,443.4 283.0,447.1 284.3,450.5 C285.6,453.9 286.8,457.8 288.1,461.8 C289.4,465.8 290.7,470.2 292.0,474.5 C293.3,478.8 294.6,483.4 295.9,487.7 C297.2,492.0 298.5,496.2 299.8,500.5 C301.1,504.8 302.4,509.3 303.7,513.6 C305.0,517.9 306.3,522.2 307.6,526.5 C308.9,530.8 310.0,535.2 311.5,539.5 C313.0,543.8 314.8,548.3 316.5,552.5 C318.2,556.7 320.1,560.2 321.8,564.5 C323.6,568.8 325.2,573.4 327.0,578.0 C328.8,582.6 330.6,587.3 332.4,592.0 C334.1,596.7 335.8,601.5 337.5,606.0 C339.2,610.5 341.1,614.9 342.8,619.0 C344.6,623.1 346.3,626.9 348.0,630.5 C349.7,634.1 351.5,637.2 353.2,640.5 C354.9,643.8 356.7,647.3 358.4,650.5 C360.1,653.7 361.9,656.6 363.6,659.6 C365.3,662.6 367.0,665.4 368.7,668.2 C370.4,671.0 372.2,673.7 373.9,676.2 C375.6,678.7 377.3,681.0 379.0,683.2 C380.7,685.5 382.6,687.8 384.3,689.7 C386.1,691.6 387.8,693.2 389.5,694.8 C391.2,696.3 392.1,697.1 394.7,699.0 C397.3,700.9 401.7,704.3 405.1,706.3 C408.5,708.3 410.9,709.8 415.0,711.0 C419.1,712.2 424.2,713.2 430.0,713.8 C435.8,714.4 443.2,714.4 450.0,714.6 C456.8,714.8 467.5,714.9 471.0,714.9" fill="none" stroke="#ff7f0e" stroke-width="1.6" stroke-linejoin="round"/>
<path d="M80.5,711.8 C82.8,711.7 91.3,711.1 94.4,711.2 C97.5,711.3 93.8,712.3 99.3,712.5 C104.8,712.7 119.7,712.8 127.1,712.6 C134.5,712.4 138.1,712.1 143.5,711.5 C148.9,710.9 155.2,709.5 159.8,708.8 C164.4,708.1 167.2,708.2 170.9,707.3 C174.6,706.4 178.5,705.0 181.8,703.5 C185.1,702.0 187.9,699.8 190.5,698.0 C193.1,696.2 195.3,694.2 197.1,692.5 C198.9,690.8 200.1,689.6 201.5,687.6 C202.9,685.6 204.3,683.1 205.8,680.5 C207.3,677.9 208.9,675.2 210.6,671.8 C212.2,668.4 214.1,664.9 215.7,660.0 C217.3,655.1 218.8,648.4 220.4,642.5 C222.1,636.6 224.2,630.5 225.6,624.8 C227.0,619.1 227.7,613.9 228.7,608.5 C229.7,603.1 230.6,597.8 231.5,592.4 C232.4,587.0 233.4,581.4 234.4,576.0 C235.4,570.6 236.6,565.5 237.6,560.0 C238.6,554.5 239.5,548.0 240.5,543.0 C241.5,538.0 242.4,534.7 243.5,530.0 C244.6,525.3 245.8,520.3 247.0,515.0 C248.2,509.7 249.2,503.4 250.5,498.0 C251.8,492.6 253.2,487.2 254.5,482.9 C255.8,478.6 256.5,475.8 258.0,472.0 C259.5,468.2 261.8,462.8 263.3,460.0 C264.8,457.2 265.7,456.1 267.0,455.0 C268.3,453.9 269.6,453.4 270.9,453.5 C272.2,453.6 273.4,454.1 275.0,455.5 C276.6,456.9 278.8,459.6 280.4,461.8 C281.9,464.1 283.0,466.4 284.3,469.0 C285.6,471.6 286.8,474.1 288.1,477.4 C289.4,480.6 290.7,484.6 292.0,488.5 C293.3,492.4 294.6,496.7 295.9,500.7 C297.2,504.7 298.5,508.6 299.8,512.5 C301.1,516.4 302.4,520.3 303.7,524.0 C305.0,527.7 306.3,531.0 307.6,534.5 C308.9,538.0 310.1,541.1 311.5,544.7 C312.9,548.3 314.6,552.4 316.0,556.0 C317.4,559.6 318.5,562.5 320.0,566.5 C321.5,570.5 323.3,575.4 325.0,580.0 C326.7,584.6 328.5,589.8 330.4,594.0 C332.3,598.2 334.9,602.1 336.6,605.5 C338.3,608.9 339.3,611.5 340.7,614.5 C342.1,617.5 343.3,619.9 345.0,623.5 C346.7,627.1 349.2,632.3 351.1,636.0 C353.0,639.7 354.6,642.6 356.3,645.5 C358.0,648.4 359.8,650.7 361.5,653.4 C363.2,656.1 365.0,659.0 366.7,661.8 C368.4,664.6 370.2,667.4 371.9,670.0 C373.6,672.6 375.3,675.1 377.0,677.5 C378.7,679.9 380.5,682.2 382.2,684.5 C383.9,686.8 385.7,688.9 387.4,691.0 C389.1,693.1 390.9,695.2 392.6,697.0 C394.3,698.8 396.1,700.1 397.8,701.5 C399.5,702.9 400.4,703.6 403.0,705.2 C405.6,706.8 409.7,709.8 413.4,711.2 C417.1,712.6 420.6,713.0 425.0,713.5 C429.4,714.0 432.3,714.3 440.0,714.5 C447.7,714.7 465.8,714.8 471.0,714.9" fill="none" stroke="#0d5fe3" stroke-width="1.6" stroke-linejoin="round"/>
<path d="M80.5,713.9 C88.3,713.9 116.6,714.0 127.1,714.0 C137.6,714.0 138.1,713.8 143.5,713.6 C148.9,713.4 155.2,712.9 159.8,712.6 C164.4,712.3 167.2,712.1 170.9,711.6 C174.6,711.1 178.7,710.5 181.8,709.5 C184.9,708.5 187.1,707.1 189.5,705.6 C191.9,704.1 194.0,702.2 196.0,700.2 C198.0,698.2 199.9,696.0 201.5,693.6 C203.1,691.2 204.4,688.7 205.8,686.0 C207.2,683.3 208.7,680.4 210.2,677.3 C211.7,674.2 213.6,670.7 214.9,667.5 C216.2,664.3 216.9,662.1 218.1,658.0 C219.3,653.9 220.4,648.5 221.9,643.0 C223.4,637.5 225.5,630.8 226.9,625.0 C228.3,619.2 229.2,613.9 230.3,608.5 C231.4,603.1 232.5,597.8 233.5,592.4 C234.5,587.0 235.4,581.4 236.4,576.0 C237.4,570.6 238.5,565.7 239.5,560.0 C240.5,554.3 241.5,547.3 242.5,542.0 C243.5,536.7 244.5,532.5 245.5,528.0 C246.5,523.5 247.4,520.0 248.5,515.0 C249.6,510.0 250.6,504.4 252.0,498.0 C253.4,491.6 255.2,482.7 256.7,476.4 C258.2,470.1 259.5,465.1 261.0,460.0 C262.5,454.9 264.0,449.8 265.5,445.8 C267.0,441.8 268.6,438.6 270.0,436.0 C271.4,433.4 272.8,432.4 274.2,430.5 C275.6,428.6 277.1,426.1 278.5,424.5 C279.9,422.9 281.5,421.7 282.9,420.7 C284.3,419.7 285.7,418.8 287.0,418.3 C288.3,417.8 289.0,417.6 290.7,417.8 C292.4,418.0 294.8,418.2 297.0,419.5 C299.2,420.8 301.7,423.3 303.7,425.5 C305.7,427.7 307.3,429.9 309.0,432.5 C310.7,435.1 312.5,438.0 314.0,441.1 C315.5,444.2 316.7,447.6 318.0,451.0 C319.3,454.4 320.7,458.1 321.8,461.8 C322.9,465.5 323.6,469.1 324.5,473.0 C325.4,476.9 325.9,480.3 327.0,485.1 C328.1,489.9 329.7,496.4 331.0,502.0 C332.3,507.6 333.5,513.4 334.8,518.8 C336.1,524.2 337.3,529.3 338.6,534.5 C339.9,539.7 341.2,544.9 342.5,549.9 C343.8,554.9 345.0,559.4 346.4,564.5 C347.8,569.6 349.8,576.0 351.1,580.7 C352.4,585.5 353.2,588.9 354.2,593.0 C355.2,597.1 356.2,601.6 357.3,605.6 C358.4,609.6 359.4,613.2 360.5,617.0 C361.6,620.8 362.6,625.0 363.6,628.5 C364.6,632.0 365.7,634.9 366.7,638.0 C367.7,641.1 368.6,643.9 369.8,647.1 C371.0,650.4 372.6,654.0 374.0,657.5 C375.4,661.0 376.7,664.9 378.1,667.9 C379.5,670.9 380.8,673.1 382.2,675.5 C383.6,677.9 385.0,680.3 386.4,682.4 C387.8,684.5 389.1,686.3 390.5,688.0 C391.9,689.7 392.6,690.6 394.7,692.8 C396.8,695.0 399.9,698.7 403.0,701.1 C406.1,703.5 410.6,705.8 413.4,707.3 C416.2,708.8 417.2,709.4 420.0,710.4 C422.8,711.4 425.0,712.3 430.0,713.0 C435.0,713.7 443.2,714.2 450.0,714.5 C456.8,714.8 467.5,714.8 471.0,714.9" fill="none" stroke="#0ea34f" stroke-width="1.6" stroke-linejoin="round"/>
<path d="M80.5,710.3 C81.6,710.2 84.7,709.8 87.0,709.5 C89.3,709.2 92.4,708.5 94.4,708.8 C96.5,709.1 96.6,710.8 99.3,711.3 C102.0,711.8 106.1,711.7 110.7,711.6 C115.3,711.5 121.6,711.1 127.1,710.6 C132.6,710.1 138.1,709.4 143.5,708.5 C148.9,707.6 155.2,706.3 159.8,705.5 C164.4,704.7 167.2,704.5 170.9,703.5 C174.6,702.5 178.5,701.0 181.8,699.6 C185.1,698.2 187.9,696.8 190.5,695.3 C193.1,693.8 195.1,692.4 197.1,690.9 C199.1,689.4 200.7,688.0 202.5,686.5 C204.3,685.0 206.2,683.5 208.0,681.6 C209.8,679.7 211.7,677.6 213.5,675.1 C215.3,672.6 217.3,669.1 218.9,666.4 C220.5,663.7 221.2,662.5 223.0,659.0 C224.8,655.5 227.2,649.9 229.4,645.5 C231.6,641.1 234.1,636.1 235.9,632.5 C237.7,628.9 238.7,626.8 240.0,624.0 C241.3,621.2 242.6,618.0 243.7,615.7 C244.8,613.5 245.6,612.0 246.5,610.5 C247.4,609.0 248.0,607.9 248.9,606.6 C249.8,605.3 250.8,603.7 252.0,602.5 C253.2,601.3 255.0,600.3 256.3,599.4 C257.6,598.5 258.8,597.8 260.0,597.3 C261.2,596.8 262.3,596.5 263.6,596.5 C264.9,596.5 266.6,596.8 268.0,597.5 C269.4,598.2 270.6,599.1 272.0,600.5 C273.4,601.9 275.1,603.5 276.7,606.0 C278.3,608.5 279.9,611.6 281.8,615.3 C283.8,619.0 286.2,624.0 288.4,628.4 C290.6,632.8 292.4,636.4 294.9,641.5 C297.4,646.6 300.3,653.4 303.6,658.9 C306.9,664.4 310.9,669.8 314.5,674.2 C318.1,678.6 321.9,681.8 325.5,685.1 C329.1,688.4 332.8,691.2 336.4,693.8 C340.0,696.3 343.7,698.4 347.3,700.4 C350.9,702.4 354.6,704.2 358.2,705.8 C361.8,707.4 365.5,708.9 369.1,710.0 C372.7,711.1 376.5,711.9 380.0,712.6 C383.5,713.3 385.0,713.6 390.0,714.0 C395.0,714.4 396.5,714.6 410.0,714.8 C423.5,714.9 460.8,714.9 471.0,714.9" fill="none" stroke="#000000" stroke-width="1.6" stroke-linejoin="round"/>
<rect x="79.7" y="399.7" width="392.0" height="315.2" fill="none" stroke="#1a1a1a" stroke-width="1.6"/>
<line x1="79.7" y1="714.9" x2="79.7" y2="720.5" stroke="#1a1a1a" stroke-width="1.5"/>
<text x="79.7" y="735.8" text-anchor="middle" class="tl">1</text>
<line x1="121.2" y1="714.9" x2="121.2" y2="717.6999999999999" stroke="#1a1a1a" stroke-width="1.5"/>
<line x1="121.2" y1="399.7" x2="121.2" y2="402.5" stroke="#1a1a1a" stroke-width="1.5"/>
<line x1="145.4" y1="714.9" x2="145.4" y2="717.6999999999999" stroke="#1a1a1a" stroke-width="1.5"/>
<line x1="145.4" y1="399.7" x2="145.4" y2="402.5" stroke="#1a1a1a" stroke-width="1.5"/>
<line x1="162.6" y1="714.9" x2="162.6" y2="717.6999999999999" stroke="#1a1a1a" stroke-width="1.5"/>
<line x1="162.6" y1="399.7" x2="162.6" y2="402.5" stroke="#1a1a1a" stroke-width="1.5"/>
<line x1="175.9" y1="714.9" x2="175.9" y2="717.6999999999999" stroke="#1a1a1a" stroke-width="1.5"/>
<line x1="175.9" y1="399.7" x2="175.9" y2="402.5" stroke="#1a1a1a" stroke-width="1.5"/>
<line x1="186.9" y1="714.9" x2="186.9" y2="717.6999999999999" stroke="#1a1a1a" stroke-width="1.5"/>
<line x1="186.9" y1="399.7" x2="186.9" y2="402.5" stroke="#1a1a1a" stroke-width="1.5"/>
<line x1="196.1" y1="714.9" x2="196.1" y2="717.6999999999999" stroke="#1a1a1a" stroke-width="1.5"/>
<line x1="196.1" y1="399.7" x2="196.1" y2="402.5" stroke="#1a1a1a" stroke-width="1.5"/>
<line x1="204.1" y1="714.9" x2="204.1" y2="717.6999999999999" stroke="#1a1a1a" stroke-width="1.5"/>
<line x1="204.1" y1="399.7" x2="204.1" y2="402.5" stroke="#1a1a1a" stroke-width="1.5"/>
<line x1="211.1" y1="714.9" x2="211.1" y2="717.6999999999999" stroke="#1a1a1a" stroke-width="1.5"/>
<line x1="211.1" y1="399.7" x2="211.1" y2="402.5" stroke="#1a1a1a" stroke-width="1.5"/>
<line x1="217.4" y1="714.9" x2="217.4" y2="720.5" stroke="#1a1a1a" stroke-width="1.5"/>
<line x1="217.4" y1="399.7" x2="217.4" y2="405.3" stroke="#1a1a1a" stroke-width="1.5"/>
<text x="217.4" y="735.8" text-anchor="middle" class="tl">10</text>
<line x1="258.9" y1="714.9" x2="258.9" y2="717.6999999999999" stroke="#1a1a1a" stroke-width="1.5"/>
<line x1="258.9" y1="399.7" x2="258.9" y2="402.5" stroke="#1a1a1a" stroke-width="1.5"/>
<line x1="283.1" y1="714.9" x2="283.1" y2="717.6999999999999" stroke="#1a1a1a" stroke-width="1.5"/>
<line x1="283.1" y1="399.7" x2="283.1" y2="402.5" stroke="#1a1a1a" stroke-width="1.5"/>
<line x1="300.3" y1="714.9" x2="300.3" y2="717.6999999999999" stroke="#1a1a1a" stroke-width="1.5"/>
<line x1="300.3" y1="399.7" x2="300.3" y2="402.5" stroke="#1a1a1a" stroke-width="1.5"/>
<line x1="313.6" y1="714.9" x2="313.6" y2="717.6999999999999" stroke="#1a1a1a" stroke-width="1.5"/>
<line x1="313.6" y1="399.7" x2="313.6" y2="402.5" stroke="#1a1a1a" stroke-width="1.5"/>
<line x1="324.6" y1="714.9" x2="324.6" y2="717.6999999999999" stroke="#1a1a1a" stroke-width="1.5"/>
<line x1="324.6" y1="399.7" x2="324.6" y2="402.5" stroke="#1a1a1a" stroke-width="1.5"/>
<line x1="333.8" y1="714.9" x2="333.8" y2="717.6999999999999" stroke="#1a1a1a" stroke-width="1.5"/>
<line x1="333.8" y1="399.7" x2="333.8" y2="402.5" stroke="#1a1a1a" stroke-width="1.5"/>
<line x1="341.8" y1="714.9" x2="341.8" y2="717.6999999999999" stroke="#1a1a1a" stroke-width="1.5"/>
<line x1="341.8" y1="399.7" x2="341.8" y2="402.5" stroke="#1a1a1a" stroke-width="1.5"/>
<line x1="348.8" y1="714.9" x2="348.8" y2="717.6999999999999" stroke="#1a1a1a" stroke-width="1.5"/>
<line x1="348.8" y1="399.7" x2="348.8" y2="402.5" stroke="#1a1a1a" stroke-width="1.5"/>
<line x1="355.1" y1="714.9" x2="355.1" y2="720.5" stroke="#1a1a1a" stroke-width="1.5"/>
<line x1="355.1" y1="399.7" x2="355.1" y2="405.3" stroke="#1a1a1a" stroke-width="1.5"/>
<text x="355.1" y="735.8" text-anchor="middle" class="tl">100</text>
<line x1="396.6" y1="714.9" x2="396.6" y2="717.6999999999999" stroke="#1a1a1a" stroke-width="1.5"/>
<line x1="396.6" y1="399.7" x2="396.6" y2="402.5" stroke="#1a1a1a" stroke-width="1.5"/>
<line x1="420.8" y1="714.9" x2="420.8" y2="717.6999999999999" stroke="#1a1a1a" stroke-width="1.5"/>
<line x1="420.8" y1="399.7" x2="420.8" y2="402.5" stroke="#1a1a1a" stroke-width="1.5"/>
<line x1="438.0" y1="714.9" x2="438.0" y2="717.6999999999999" stroke="#1a1a1a" stroke-width="1.5"/>
<line x1="438.0" y1="399.7" x2="438.0" y2="402.5" stroke="#1a1a1a" stroke-width="1.5"/>
<line x1="451.3" y1="714.9" x2="451.3" y2="717.6999999999999" stroke="#1a1a1a" stroke-width="1.5"/>
<line x1="451.3" y1="399.7" x2="451.3" y2="402.5" stroke="#1a1a1a" stroke-width="1.5"/>
<line x1="462.3" y1="714.9" x2="462.3" y2="717.6999999999999" stroke="#1a1a1a" stroke-width="1.5"/>
<line x1="462.3" y1="399.7" x2="462.3" y2="402.5" stroke="#1a1a1a" stroke-width="1.5"/>
<line x1="471.5" y1="714.9" x2="471.5" y2="717.6999999999999" stroke="#1a1a1a" stroke-width="1.5"/>
<line x1="471.5" y1="399.7" x2="471.5" y2="402.5" stroke="#1a1a1a" stroke-width="1.5"/>
<line x1="73.9" y1="714.9" x2="79.7" y2="714.9" stroke="#1a1a1a" stroke-width="1.5"/>
<text x="69.6" y="719.5" text-anchor="end" class="tl">0</text>
<line x1="76.5" y1="675.5" x2="79.7" y2="675.5" stroke="#1a1a1a" stroke-width="1.5"/>
<line x1="73.9" y1="636.1" x2="79.7" y2="636.1" stroke="#1a1a1a" stroke-width="1.5"/>
<text x="72.8" y="640.7" text-anchor="end" class="tl">50,000</text>
<line x1="76.5" y1="596.7" x2="79.7" y2="596.7" stroke="#1a1a1a" stroke-width="1.5"/>
<line x1="73.9" y1="557.3" x2="79.7" y2="557.3" stroke="#1a1a1a" stroke-width="1.5"/>
<text x="72.8" y="561.9" text-anchor="end" class="tl">100,000</text>
<line x1="76.5" y1="517.9" x2="79.7" y2="517.9" stroke="#1a1a1a" stroke-width="1.5"/>
<line x1="73.9" y1="478.5" x2="79.7" y2="478.5" stroke="#1a1a1a" stroke-width="1.5"/>
<text x="72.8" y="483.1" text-anchor="end" class="tl">150,000</text>
<line x1="76.5" y1="439.1" x2="79.7" y2="439.1" stroke="#1a1a1a" stroke-width="1.5"/>
<line x1="73.9" y1="399.7" x2="79.7" y2="399.7" stroke="#1a1a1a" stroke-width="1.5"/>
<text x="72.8" y="404.3" text-anchor="end" class="tl">200,000</text>
<text x="477.8" y="719.5" class="tl">0</text>
<line x1="468.5" y1="662.4" x2="471.7" y2="662.4" stroke="#1a1a1a" stroke-width="1.5"/>
<line x1="465.9" y1="609.8" x2="471.7" y2="609.8" stroke="#1a1a1a" stroke-width="1.5"/>
<text x="474.2" y="614.4" class="tl">10,000</text>
<line x1="468.5" y1="557.3" x2="471.7" y2="557.3" stroke="#1a1a1a" stroke-width="1.5"/>
<line x1="465.9" y1="504.8" x2="471.7" y2="504.8" stroke="#1a1a1a" stroke-width="1.5"/>
<text x="474.2" y="509.4" class="tl">20,000</text>
<line x1="468.5" y1="452.2" x2="471.7" y2="452.2" stroke="#1a1a1a" stroke-width="1.5"/>
<text x="474.2" y="404.3" class="tl">30,000</text>
<rect x="83.3" y="403.4" width="163.3" height="96.6" fill="#fff" stroke="#8c8c8c" stroke-width="1.1"/>
<line x1="86.0" y1="414.0" x2="121.3" y2="414.0" stroke="#000000" stroke-width="1.7"/>
<line x1="124.9" y1="414.0" x2="157.8" y2="414.0" stroke="#000000" stroke-width="1.7" stroke-dasharray="3.7 3.57"/>
<text x="165.3" y="419.6" style="font-size:15.6px">No polymer</text>
<line x1="86.0" y1="433.0" x2="121.3" y2="433.0" stroke="#ff7f0e" stroke-width="1.7"/>
<line x1="124.9" y1="433.0" x2="157.8" y2="433.0" stroke="#ff7f0e" stroke-width="1.7" stroke-dasharray="3.7 3.57"/>
<text x="165.3" y="438.6" style="font-size:15.6px">A150</text>
<line x1="86.0" y1="451.9" x2="121.3" y2="451.9" stroke="#f5333a" stroke-width="1.7"/>
<line x1="124.9" y1="451.9" x2="157.8" y2="451.9" stroke="#f5333a" stroke-width="1.7" stroke-dasharray="3.7 3.57"/>
<text x="165.3" y="457.5" style="font-size:15.6px">A130</text>
<line x1="86.0" y1="470.9" x2="121.3" y2="470.9" stroke="#0d5fe3" stroke-width="1.7"/>
<line x1="124.9" y1="470.9" x2="157.8" y2="470.9" stroke="#0d5fe3" stroke-width="1.7" stroke-dasharray="3.7 3.57"/>
<text x="165.3" y="476.5" style="font-size:15.6px">A100</text>
<line x1="86.0" y1="489.9" x2="121.3" y2="489.9" stroke="#0ea34f" stroke-width="1.7"/>
<line x1="124.9" y1="489.9" x2="157.8" y2="489.9" stroke="#0ea34f" stroke-width="1.7" stroke-dasharray="3.7 3.57"/>
<text x="165.3" y="495.5" style="font-size:15.6px">N100</text>
<text x="81.6" y="514.6" class="bold">(b)K-feldspar</text>
<text x="201.8" y="762.7" class="title">Chord Lengths (μm)</text>
<text transform="translate(17.6,663.6) rotate(-90)" class="title vt">Length-weighted Counts (s<tspan dy="-6.8" style="font-size:10.5px">-1</tspan><tspan dy="6.8">)</tspan></text>
<text transform="translate(536.2,657.8) rotate(-90)" class="title vt">Cube-weighted Counts (s<tspan dy="-6.8" style="font-size:10.5px">-1</tspan><tspan dy="6.8">)</tspan></text>
</g>
</svg>
</body></html>
